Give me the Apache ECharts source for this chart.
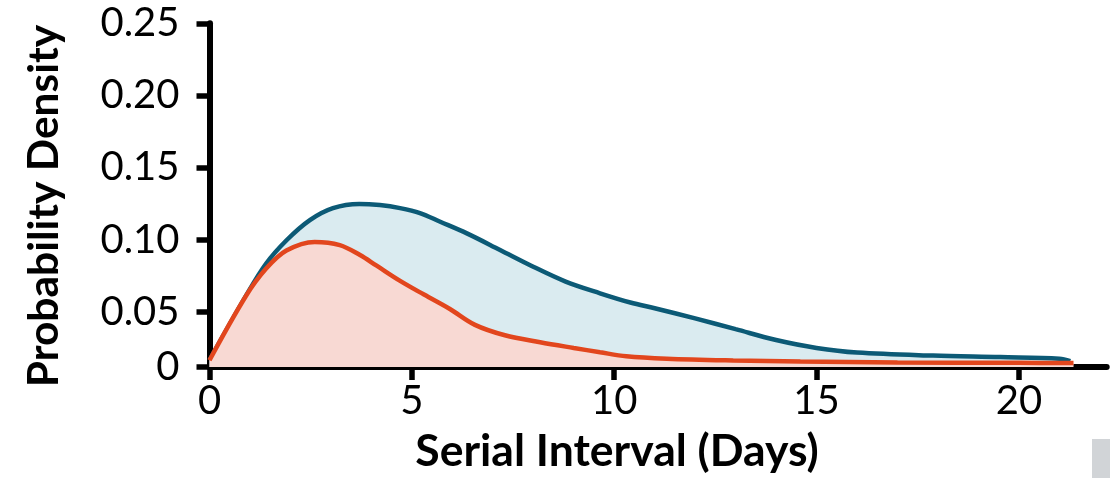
<!DOCTYPE html>
<html>
<head>
<meta charset="utf-8">
<script src="https://cdn.jsdelivr.net/npm/echarts@6/dist/echarts.min.js"></script>
<style>
  html, body { margin: 0; padding: 0; background: #fff; }
  #chart { width: 1110px; height: 482px; }
</style>
</head>
<body>
<div id="chart"></div>
<script>
// Serial interval distributions (days vs probability density)
const tealDays    = [0, 0.9, 1.4, 1.91, 2.48, 3.05, 3.7, 4.21, 4.71, 5.20, 5.70, 6.36, 7.18, 8.0, 8.8, 9.65, 10.4, 11.0, 12.0, 13.0, 14.0, 15.0, 16.0, 17.88, 19.54, 21.0, 21.27];
const tealDensity = [0.0165, 0.061, 0.0835, 0.0998, 0.1136, 0.1219, 0.1248, 0.1240, 0.1219, 0.1185, 0.1125, 0.1044, 0.0929, 0.0813, 0.0710, 0.0629, 0.0565, 0.0525, 0.0455, 0.0380, 0.0305, 0.0250, 0.0218, 0.0197, 0.0187, 0.0176, 0.0158];

const orangeDays    = [0, 0.9, 1.4, 1.9, 2.6, 3.22, 3.72, 4.13, 4.71, 5.3, 5.94, 6.56, 7.3, 8.17, 9.0, 9.65, 10.3, 11.3, 12.94, 14.6, 17.0, 20.0, 21.35];
const orangeDensity = [0.0165, 0.061, 0.0800, 0.0925, 0.0985, 0.0963, 0.0894, 0.0820, 0.0715, 0.0620, 0.0520, 0.0410, 0.0338, 0.0290, 0.0250, 0.0220, 0.0192, 0.0175, 0.0163, 0.0156, 0.0150, 0.0147, 0.0146];

// Axis ticks; the lowest y tick is the visual floor of the plot, labelled 0
const yFloor = 0.0118;
const yTicks = [yFloor, 0.05, 0.10, 0.15, 0.20, 0.25];
const xTicks = [0, 5, 10, 15, 20];

const zip = (xs, ys) => xs.map((x, i) => [x, ys[i]]);

const FONT = 'Lato';
const chart = echarts.init(document.getElementById('chart'), null, { renderer: 'canvas' });

chart.setOption({
  animation: false,
  backgroundColor: '#ffffff',
  grid: { left: 209.5, right: 3.3, top: 23.3, bottom: 115, containLabel: false },
  xAxis: {
    type: 'value',
    min: 0,
    max: 22.17,
    name: 'Serial Interval (Days)',
    nameLocation: 'middle',
    nameGap: 62,
    nameTextStyle: { fontFamily: FONT, fontWeight: 'bold', fontSize: 44.5, color: '#000', padding: [0, 82, 0, 0] },
    axisLine: { show: true, onZero: false, lineStyle: { color: '#000', width: 6 } },
    axisTick: { show: true, customValues: xTicks, length: 13, lineStyle: { color: '#000', width: 5.5 } },
    axisLabel: { customValues: xTicks, margin: 14, fontFamily: FONT, fontSize: 40, color: '#000' },
    splitLine: { show: false }
  },
  yAxis: {
    type: 'value',
    min: yFloor,
    max: 0.25,
    axisLine: { show: true, lineStyle: { color: '#000', width: 6 } },
    axisTick: { show: true, customValues: yTicks, length: 13, lineStyle: { color: '#000', width: 5.5 } },
    axisLabel: {
      customValues: yTicks,
      margin: 30,
      fontFamily: FONT,
      fontSize: 40,
      color: '#000',
      formatter: v => (v < 0.02 ? '0' : v.toFixed(2))
    },
    splitLine: { show: false }
  },
  series: [
    {
      type: 'line',
      data: zip(tealDays, tealDensity),
      smooth: 0.35,
      symbol: 'none',
      lineStyle: { color: '#0c5a76', width: 4.5 },
      areaStyle: { color: '#daebf0', opacity: 1, origin: 'start' },
      z: 2
    },
    {
      type: 'line',
      data: zip(orangeDays, orangeDensity),
      smooth: 0.35,
      symbol: 'none',
      lineStyle: { color: '#e2461d', width: 4.5 },
      areaStyle: { color: '#f8d9d3', opacity: 1, origin: 'start' },
      z: 3
    }
  ],
  graphic: [
    {
      // vertical axis title
      type: 'text',
      x: 44,
      y: 206,
      rotation: Math.PI / 2,
      style: {
        text: 'Probability Density',
        fontFamily: FONT,
        fontWeight: 'bold',
        fontSize: 42.5,
        fill: '#000',
        align: 'center',
        verticalAlign: 'middle'
      }
    },
    { type: 'rect', right: 0, top: 439, shape: { width: 18, height: 39 }, style: { fill: '#d1d4d7' } }
  ]
});
</script>
</body>
</html>
